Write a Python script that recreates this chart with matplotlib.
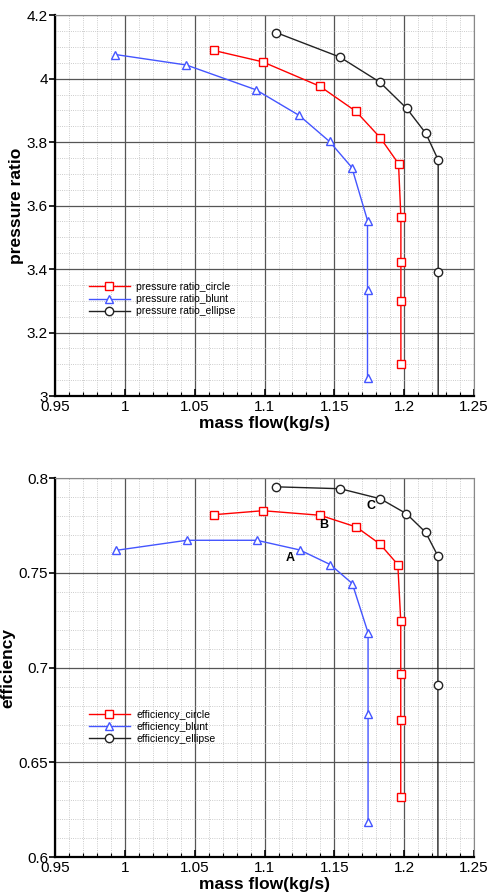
import numpy as np
import matplotlib
matplotlib.use('Agg')
import matplotlib.pyplot as plt
from matplotlib.ticker import MultipleLocator, FormatStrFormatter

plt.rcParams['font.family'] = ['Liberation Sans', 'DejaVu Sans']

# pressure ratio vs mass flow
pr_circle_x = [1.0635, 1.0986, 1.1396, 1.1654, 1.1828, 1.1959, 1.1976, 1.1976, 1.1976, 1.1976]
pr_circle_y = [4.089, 4.053, 3.976, 3.897, 3.814, 3.732, 3.564, 3.423, 3.301, 3.102]
pr_blunt_x = [0.9932, 1.044, 1.0938, 1.1248, 1.1465, 1.1625, 1.1737, 1.1737, 1.1737]
pr_blunt_y = [4.076, 4.043, 3.965, 3.884, 3.802, 3.720, 3.553, 3.335, 3.058]
pr_ellipse_x = [1.1084, 1.1539, 1.1825, 1.2018, 1.2154, 1.2243, 1.2243, 1.2243]
pr_ellipse_y = [4.145, 4.068, 3.989, 3.906, 3.828, 3.744, 3.391, 2.9]

# efficiency vs mass flow
ef_circle_x = [1.0637, 1.0989, 1.1398, 1.1657, 1.1825, 1.1954, 1.1975, 1.1975, 1.1975, 1.1975]
ef_circle_y = [0.7807, 0.7828, 0.7804, 0.7742, 0.7653, 0.7544, 0.7247, 0.6968, 0.6725, 0.6316]
ef_blunt_x = [0.9938, 1.0443, 1.0944, 1.1252, 1.147, 1.1628, 1.1741, 1.1741, 1.1741]
ef_blunt_y = [0.7619, 0.7672, 0.7672, 0.7621, 0.7544, 0.7444, 0.7184, 0.6753, 0.6184]
ef_ellipse_x = [1.1085, 1.1542, 1.1829, 1.2016, 1.2153, 1.2241, 1.2241, 1.2241]
ef_ellipse_y = [0.7954, 0.7944, 0.7891, 0.7812, 0.7714, 0.7589, 0.6911, 0.58]

# point labels on the efficiency plot
pt_labels = ['A', 'B', 'C']
pt_x = [1.1183, 1.142, 1.176]
pt_y = [0.7579, 0.7751, 0.7851]


def style_axes(ax, ymin, ymax, ymajor, yminor, yfmt):
    ax.set_xlim(0.95, 1.25)
    ax.set_ylim(ymin, ymax)
    ax.xaxis.set_major_locator(MultipleLocator(0.05))
    ax.xaxis.set_minor_locator(MultipleLocator(0.01))
    ax.yaxis.set_major_locator(MultipleLocator(ymajor))
    ax.yaxis.set_minor_locator(MultipleLocator(yminor))
    ax.xaxis.set_major_formatter(FormatStrFormatter('%g'))
    ax.yaxis.set_major_formatter(FormatStrFormatter(yfmt))
    ax.grid(which='major', color='#555555', linewidth=0.9, linestyle='-')
    ax.grid(which='minor', color='#bbbbbb', linewidth=0.6, linestyle=':')
    ax.set_axisbelow(True)
    for s in ['left', 'bottom']:
        ax.spines[s].set_linewidth(1.6)
        ax.spines[s].set_color('black')
    for s in ['top', 'right']:
        ax.spines[s].set_linewidth(0.8)
        ax.spines[s].set_color('#888888')
    ax.tick_params(axis='y', which='major', direction='out', length=4, width=1.2, labelsize=11, pad=1)
    ax.tick_params(axis='y', which='minor', length=0)
    ax.tick_params(axis='x', which='major', direction='in', length=5, width=1.2, labelsize=11, pad=3)
    ax.tick_params(axis='x', which='minor', direction='in', length=3, width=0.8)
    ax.set_xlabel('mass flow(kg/s)', fontsize=12.5, fontweight='bold', labelpad=1)


fig = plt.figure(figsize=(4.89, 8.92), dpi=100)
ax1 = fig.add_axes([0.1125, 0.556, 0.857, 0.427])
ax2 = fig.add_axes([0.1125, 0.039, 0.857, 0.425])

mk = dict(markersize=6, markerfacecolor='white', linewidth=1.0, markeredgewidth=1.0)
leg = dict(loc='upper left', frameon=False, fontsize=7.5, handlelength=4.0,
           handletextpad=0.6, labelspacing=0.2, borderaxespad=0)

ax1.plot(pr_circle_x, pr_circle_y, color='red', marker='s', label='pressure ratio_circle', **mk)
ax1.plot(pr_blunt_x, pr_blunt_y, color='#4455ff', marker='^', label='pressure ratio_blunt', **mk)
ax1.plot(pr_ellipse_x, pr_ellipse_y, color='#222222', marker='o', label='pressure ratio_ellipse', **mk)
style_axes(ax1, 3.0, 4.2, 0.2, 0.05, '%g')
ax1.set_ylabel('pressure ratio', fontsize=12.5, fontweight='bold', labelpad=2)
ax1.legend(bbox_to_anchor=(0.07, 0.31), **leg)

ax2.plot(ef_circle_x, ef_circle_y, color='red', marker='s', label='efficiency_circle', **mk)
ax2.plot(ef_blunt_x, ef_blunt_y, color='#4455ff', marker='^', label='efficiency_blunt', **mk)
ax2.plot(ef_ellipse_x, ef_ellipse_y, color='#222222', marker='o', label='efficiency_ellipse', **mk)
style_axes(ax2, 0.6, 0.8, 0.05, 0.01, '%g')
ax2.set_ylabel('efficiency', fontsize=12.5, fontweight='bold', labelpad=2)
ax2.legend(bbox_to_anchor=(0.07, 0.40), **leg)
for lab, x, y in zip(pt_labels, pt_x, pt_y):
    ax2.text(x, y, lab, fontsize=9, fontweight='bold', ha='center', va='center')

fig.savefig('out.png', dpi=100)
